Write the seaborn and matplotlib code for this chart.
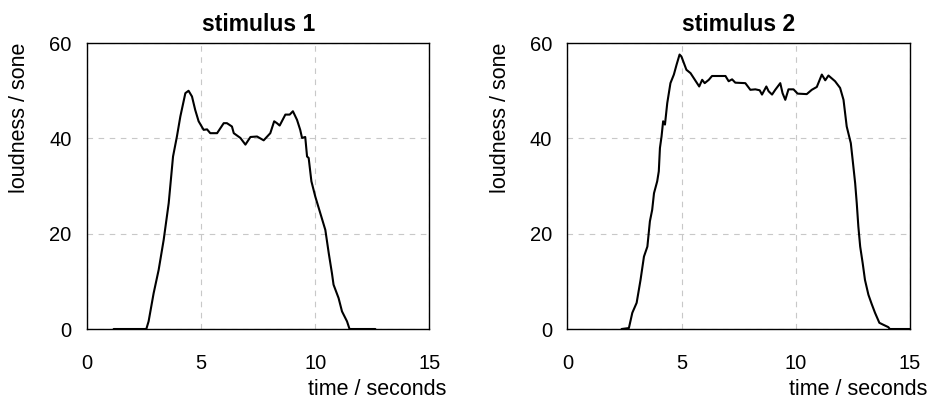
import numpy as np
import pandas as pd
import matplotlib
matplotlib.use('Agg')
import matplotlib.pyplot as plt
import seaborn as sns

# ---- loudness curves (time in s, loudness in sone) ----
t1 = [1.17, 2.6, 2.7, 2.92, 3.14, 3.36, 3.58, 3.77, 3.94, 4.09, 4.31, 4.45, 4.6,
      4.74, 4.89, 5.11, 5.26, 5.4, 5.7, 5.99, 6.13, 6.35, 6.43, 6.72, 6.94, 7.16,
      7.45, 7.74, 8.03, 8.2, 8.32, 8.44, 8.69, 8.88, 9.02, 9.2, 9.34, 9.42, 9.56,
      9.64, 9.71, 9.83, 10.0, 10.22, 10.44, 10.59, 10.73, 10.8, 11.02, 11.17,
      11.39, 11.5, 12.63]
l1 = [0, 0, 1.6, 7.5, 12.4, 18.7, 26.4, 36.2, 40.4, 44.6, 49.5, 50.0, 48.8,
      46.0, 43.6, 41.8, 41.9, 41.1, 41.1, 43.2, 43.2, 42.5, 41.1, 40.1, 38.7, 40.3,
      40.4, 39.6, 41.1, 43.6, 43.2, 42.7, 45.0, 45.0, 45.7, 43.9, 41.8, 40.1, 40.3,
      36.2, 35.9, 31.0, 27.8, 24.3, 20.8, 15.9, 11.7, 9.3, 6.5, 3.7,
      1.6, 0, 0]

t2 = [2.37, 2.69, 2.84, 3.03, 3.2, 3.35, 3.5, 3.61, 3.71, 3.79, 3.93, 4.0, 4.05,
      4.12, 4.19, 4.27, 4.37, 4.51, 4.66, 4.78, 4.91, 4.99, 5.1, 5.21, 5.39, 5.58,
      5.77, 5.9, 6.01, 6.19, 6.33, 6.92, 7.06, 7.21, 7.35, 7.79, 8.01, 8.23, 8.42,
      8.52, 8.71, 8.81, 8.96, 9.1, 9.32, 9.42, 9.54, 9.68, 9.9, 10.08, 10.48, 10.7,
      10.92, 11.14, 11.29, 11.43, 11.72, 11.94, 12.09, 12.23, 12.41, 12.49, 12.6,
      12.67, 12.74, 12.82, 12.93, 13.03, 13.18, 13.32, 13.47, 13.66, 13.83, 14.05,
      14.12, 15.0]
l2 = [0, 0.2, 3.4, 5.5, 10.3, 15.2, 17.3, 22.6, 25.0, 28.5, 31.0, 33.1, 38.0,
      40.4, 43.6, 42.9, 47.4, 51.6, 53.4, 55.5, 57.6, 57.2, 55.8, 54.4, 53.7, 52.3,
      50.9, 52.3, 51.6, 52.3, 53.1, 53.1, 52.0, 52.4, 51.7, 51.6, 50.2, 50.3, 50.1,
      49.2, 50.9, 49.9, 49.2, 50.2, 51.6, 49.5, 48.1, 50.3, 50.3, 49.4, 49.3, 50.2,
      50.8, 53.4, 52.2, 53.2, 52.0, 50.6, 48.1, 42.5, 39.0, 35.5, 30.6,
      26.4, 21.5, 17.3, 13.8, 10.3, 7.2, 5.3, 3.4, 1.3, 0.9, 0.4,
      0, 0]

titles = ['stimulus 1', 'stimulus 2']
x_ticks = [0, 5, 10, 15]
y_ticks = [0, 20, 40, 60]

sns.set_theme(style='white')
plt.rcParams['font.family'] = ['Liberation Sans', 'DejaVu Sans']
plt.rcParams.update({'text.color': 'black', 'axes.labelcolor': 'black',
                     'xtick.color': 'black', 'ytick.color': 'black'})

fig, axes = plt.subplots(1, 2, figsize=(9.29, 4.03), dpi=100)
fig.subplots_adjust(left=0.0936, right=0.9795, top=0.893, bottom=0.1836, wspace=0.403)

for ax, t, l, title in zip(axes, [t1, t2], [l1, l2], titles):
    df = pd.DataFrame({'time': t, 'loudness': l})
    sns.lineplot(data=df, x='time', y='loudness', ax=ax, color='black',
                 linewidth=1.5, sort=False)
    ax.set_xlim(0, 15); ax.set_ylim(0, 60)
    ax.set_xticks(x_ticks); ax.set_yticks(y_ticks)
    ax.grid(True, ls=(0, (5, 5)), color='#c8c8c8', lw=0.8)
    for s in ax.spines.values():
        s.set_color('black'); s.set_linewidth(1.0)
    ax.tick_params(direction='in', length=4, width=1, colors='black',
                   labelsize=14.5)
    ax.tick_params(axis='x', pad=18)
    ax.tick_params(axis='y', pad=11)
    ax.set_title(title, fontsize=16.5, fontweight='bold', pad=9)
    ax.set_xlabel('time / seconds', fontsize=15.5, ha='right')
    ax.xaxis.set_label_coords(1.05, -0.175)
    ax.set_ylabel('loudness / sone', fontsize=15.5, ha='right')
    ax.yaxis.set_label_coords(-0.165, 1.0)

fig.savefig('out.png', dpi=100)
